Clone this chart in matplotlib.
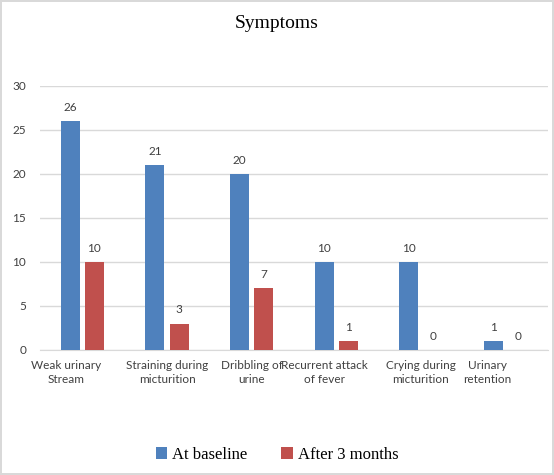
import numpy as np
import matplotlib
matplotlib.use("Agg")
import matplotlib.pyplot as plt
from matplotlib.transforms import ScaledTranslation

categories = ["Weak urinary\nStream", "Straining during\nmicturition", "Dribbling of\nurine",
              "Recurrent attack\nof fever", "Crying during\nmicturition", "Urinary\nretention"]
baseline = [26, 21, 20, 10, 10, 1]
after_3m = [10, 3, 7, 1, 0, 0]
series_names = ["At baseline", "After 3 months"]
yticks = [0, 5, 10, 15, 20, 25, 30]

# small horizontal nudges (px) of category labels, as in the source
label_shift = [-16, 0, 0, -12, 0, -18]

BLUE = "#4F81BD"
RED = "#C0504D"
GRID = "#D9D9D9"
TXT = "#404040"
FS = 8.5

fig = plt.figure(figsize=(5.54, 4.75), dpi=100, edgecolor=GRID, linewidth=1.5)
ax = fig.add_axes([40 / 554, 1 - 350 / 475, 508 / 554, (350 - 86) / 475])

x = np.arange(len(categories))
w = 0.224
off = 0.142
b1 = ax.bar(x - off, baseline, w, color=BLUE, label=series_names[0], zorder=3)
b2 = ax.bar(x + off, after_3m, w, color=RED, label=series_names[1], zorder=3)

for bars in (b1, b2):
    ax.bar_label(bars, padding=6, fontsize=FS, color=TXT, family="Lato")

ax.set_xlim(-0.5, len(categories) - 0.5)
ax.set_ylim(0, 30)
ax.set_yticks(yticks)
ax.tick_params(axis="y", length=0, labelsize=FS, labelcolor=TXT, pad=10)
for lab in ax.get_yticklabels():
    lab.set_family("Lato")
ax.grid(axis="y", color=GRID, linewidth=1, zorder=0)
for s in ["top", "right", "left"]:
    ax.spines[s].set_visible(False)
ax.spines["bottom"].set_color(GRID)

ax.set_xticks(x)
ax.set_xticklabels(categories, fontsize=FS, color=TXT, family="Lato", linespacing=1.35)
ax.tick_params(axis="x", length=0, pad=7)
for lab, dx in zip(ax.get_xticklabels(), label_shift):
    lab.set_transform(lab.get_transform() + ScaledTranslation(dx / 100, 0, fig.dpi_scale_trans))

fig.text(0.5, 1 - 23 / 475, "Symptoms", ha="center", va="center",
         family="Liberation Serif", fontsize=14, color="black")

fig.legend(loc="center", bbox_to_anchor=(0.5, 1 - 455 / 475), ncol=2, frameon=False,
           prop={"family": "Liberation Serif", "size": 12}, handlelength=0.7,
           handleheight=0.7, handletextpad=0.3, columnspacing=2.0)

fig.savefig("out.png", dpi=100)
